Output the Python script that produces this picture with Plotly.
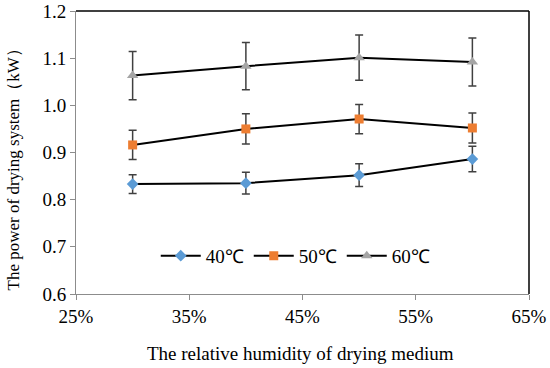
import plotly.graph_objects as go

humidity = [0.30, 0.40, 0.50, 0.60]
series_names = ["40℃", "50℃", "60℃"]
power_40 = [0.833, 0.835, 0.852, 0.886]
err_40 = [0.020, 0.023, 0.024, 0.027]
power_50 = [0.916, 0.950, 0.971, 0.952]
err_50 = [0.031, 0.032, 0.031, 0.032]
power_60 = [1.063, 1.083, 1.101, 1.092]
err_60 = [0.051, 0.050, 0.048, 0.051]

x_ticks = [0.25, 0.35, 0.45, 0.55, 0.65]
x_tick_labels = ["25%", "35%", "45%", "55%", "65%"]
y_ticks = [0.6, 0.7, 0.8, 0.9, 1.0, 1.1, 1.2]
y_tick_labels = ["0.6", "0.7", "0.8", "0.9", "1.0", "1.1", "1.2"]
x_title = "The relative humidity of drying medium"
y_title = "The power of drying system（kW）"

colors = ["#5B9BD5", "#ED7D31", "#A5A5A5"]
symbols = ["diamond", "square", "triangle-up"]
sizes = [9, 9, 10]

FONT = "Liberation Serif"

fig = go.Figure()
for name, vals, errs, c, s, sz in zip(series_names, [power_40, power_50, power_60],
                                      [err_40, err_50, err_60], colors, symbols, sizes):
    fig.add_trace(go.Scatter(
        x=humidity, y=vals, name=name, mode="lines+markers",
        line=dict(color="black", width=2),
        marker=dict(symbol=s, size=sz, color=c, line=dict(width=0)),
        error_y=dict(type="data", array=errs, visible=True, color="#404040",
                     thickness=1.5, width=4),
    ))

fig.update_layout(
    width=550, height=368,
    margin=dict(l=76, r=21, t=11, b=74, autoexpand=False),
    paper_bgcolor="white", plot_bgcolor="white",
    font=dict(family=FONT, size=18, color="black"),
    showlegend=True,
    legend=dict(orientation="h", x=0.484, xanchor="center", y=0.135, yanchor="middle",
                font=dict(family=FONT, size=19), bgcolor="rgba(0,0,0,0)",
                itemwidth=40, tracegroupgap=0),
    xaxis=dict(range=[0.25, 0.65], tickvals=x_ticks, ticktext=x_tick_labels,
               showgrid=False, zeroline=False, showline=True, linecolor="#8c8c8c",
               linewidth=1, ticks="outside", ticklen=5, tickcolor="#8c8c8c",
               automargin=False, tickfont=dict(family=FONT, size=19)),
    yaxis=dict(range=[0.6, 1.2], tickvals=y_ticks, ticktext=y_tick_labels,
               showgrid=False, zeroline=False, showline=True, linecolor="#8c8c8c",
               linewidth=1, ticks="outside", ticklen=5, tickcolor="#8c8c8c",
               automargin=False, tickfont=dict(family=FONT, size=19)),
    annotations=[
        dict(text=x_title, xref="paper", yref="paper", x=0.4956, y=-0.212,
             xanchor="center", yanchor="middle", showarrow=False,
             font=dict(family=FONT, size=19)),
        dict(text=y_title, xref="paper", yref="paper", x=-0.138, y=0.456,
             xanchor="center", yanchor="middle", showarrow=False, textangle=-90,
             font=dict(family=FONT, size=17)),
    ],
    shapes=[
        dict(type="line", xref="paper", yref="paper", x0=0, x1=1, y0=1, y1=1,
             line=dict(color="black", width=1.5)),
        dict(type="line", xref="paper", yref="paper", x0=1, x1=1, y0=0, y1=1,
             line=dict(color="black", width=1.5)),
    ],
)

fig.write_html("out.html", config={"displayModeBar": False},
               post_script="document.body.style.margin='0';")
